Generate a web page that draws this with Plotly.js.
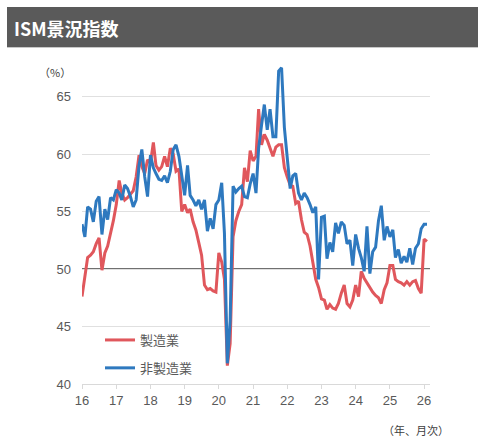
<!DOCTYPE html>
<html>
<head>
<meta charset="utf-8">
<script src="https://cdn.plot.ly/plotly-3.0.1.min.js"></script>
<style>html,body{margin:0;padding:0;background:#fff;}#chart{width:483px;height:438px;}</style>
</head>
<body>
<div id="chart"></div>
<script>
// ---- data ----
const startYear = 2016;
const seriesNames = ['製造業', '非製造業'];
const manufacturing = [
  47.6, 49.5, 51.0, 51.2, 51.5, 52.2, 52.7, 49.9, 51.4, 52.0, 53.0, 54.2,
  55.6, 57.7, 56.6, 56.0, 56.2, 56.5, 56.8, 58.0, 59.9, 58.9, 58.3, 59.5,
  59.2, 61.0, 59.0, 58.6, 58.9, 59.8, 58.9, 60.5, 60.0, 58.5, 58.7, 55.0,
  55.6, 54.9, 55.2, 54.1, 53.4, 52.3, 51.2, 48.6, 48.2, 48.3, 48.1, 48.0,
  51.4, 50.6, 49.1, 41.6, 43.5, 52.8, 54.2, 55.0, 55.6, 58.8, 57.6, 60.3,
  59.4, 59.8, 63.9, 60.8, 61.7, 61.2, 60.5, 59.8, 60.6, 60.8, 60.8, 58.8,
  58.0, 57.3, 57.2, 55.7, 55.9, 54.3, 53.2, 53.0, 52.0, 50.6, 49.1, 48.4,
  47.4, 47.3, 46.5, 46.9, 46.6, 46.5, 47.0, 47.9, 48.6, 47.0, 46.7, 47.3,
  48.6, 47.6, 49.8, 49.2, 48.8, 48.4, 48.0, 47.7, 47.5, 47.0, 48.2, 48.8,
  50.3, 50.3, 49.1, 48.9, 48.8, 48.6, 48.9, 48.6, 48.9, 49.0, 48.3, 47.9,
  52.6, 52.4
];
const services = [
  53.9, 52.8, 55.4, 55.2, 54.1, 55.9, 56.3, 53.0, 55.2, 54.3, 56.2, 56.0,
  56.9, 56.6, 56.0, 57.3, 57.0, 56.3, 55.4, 56.0, 59.0, 60.4, 58.0, 56.3,
  59.9, 58.8, 58.3, 57.8, 57.7, 58.1, 57.5, 58.5, 60.4, 60.8, 59.8, 58.0,
  56.4, 59.0, 56.4, 56.0, 55.5, 56.0, 55.2, 56.0, 53.3, 54.4, 53.5, 55.6,
  56.0, 57.5, 53.1, 41.8, 45.5, 57.2, 56.7, 57.0, 57.2, 56.3, 56.2, 57.4,
  58.3, 56.6, 60.5, 62.5, 64.3, 62.1, 63.9, 61.5, 61.5, 67.2, 67.5, 62.3,
  59.9, 57.0, 58.1, 58.3, 56.6, 56.0, 56.6, 56.2, 55.6, 54.9, 55.4, 49.1,
  54.5, 54.6, 50.9, 52.3, 51.5, 54.0, 53.1, 54.1, 53.8, 52.2, 52.5, 50.3,
  53.0, 51.8, 51.0, 49.8, 53.7, 49.6, 51.5, 51.9, 54.2, 55.5, 52.5, 53.7,
  52.8, 53.4, 51.0, 51.7, 50.5, 51.1, 50.6, 51.8, 50.4, 51.8, 52.2, 53.5,
  53.9, 53.9
];
const yearTickDates = ['2016-01-01','2017-01-01','2018-01-01','2019-01-01','2020-01-01','2021-01-01','2022-01-01','2023-01-01','2024-01-01','2025-01-01','2026-01-01'];
const yearTickLabels = ['16','17','18','19','20','21','22','23','24','25','26'];
const yTickVals = [40, 45, 50, 55, 60, 65];
const titleText = 'ISM景況指数';
const unitText = '（%）';
const xUnitText = '（年、月次）';

// month dates derived from the start year
const months = manufacturing.map((_, i) => {
  const y = startYear + Math.floor(i / 12);
  const m = (i % 12) + 1;
  return y + '-' + (m < 10 ? '0' + m : m) + '-01';
});

// ---- layout helpers (pixel -> paper) ----
const W = 483, H = 438;
const M = {l: 82, r: 53, t: 62, b: 54};
const PW = W - M.l - M.r, PH = H - M.t - M.b;
const px = x => (x - M.l) / PW;
const py = y => (H - M.b - y) / PH;

const jp = '"Noto Sans CJK JP", "Noto Sans", sans-serif';
const num = '"Liberation Sans", Arial, sans-serif';

const traces = [
  {x: months, y: manufacturing, name: seriesNames[0], type: 'scatter', mode: 'lines',
   line: {color: '#E0575C', width: 3}, legendgroup: 'a'},
  {x: months, y: services, name: seriesNames[1], type: 'scatter', mode: 'lines',
   line: {color: '#2E79BF', width: 3}, legendgroup: 'b'}
];

const layout = {
  width: W, height: H,
  margin: M,
  paper_bgcolor: '#ffffff', plot_bgcolor: '#ffffff',
  showlegend: true,
  legend: {
    x: px(100), y: py(325), xanchor: 'left', yanchor: 'top',
    bgcolor: 'rgba(0,0,0,0)', borderwidth: 0,
    font: {family: jp, size: 13, color: '#595959'},
    tracegroupgap: 8, itemwidth: 30
  },
  xaxis: {
    type: 'date',
    range: ['2016-01-01', '2026-03-05'],
    tickmode: 'array', tickvals: yearTickDates, ticktext: yearTickLabels,
    ticks: 'outside', ticklen: 4, tickcolor: '#d9d9d9', tickwidth: 1,
    showgrid: false, zeroline: false,
    showline: true, linecolor: '#d9d9d9', linewidth: 1,
    tickfont: {family: num, size: 13, color: '#595959'}
  },
  yaxis: {
    range: [40, 68],
    tickmode: 'array', tickvals: yTickVals,
    showgrid: true, gridcolor: '#e0e0e0', gridwidth: 1,
    zeroline: false, showline: false, ticks: '',
    ticklabelstandoff: 10,
    tickfont: {family: num, size: 13, color: '#595959'}
  },
  shapes: [
    {type: 'rect', xref: 'paper', yref: 'paper', x0: px(7), x1: px(478), y0: py(47), y1: py(7),
     fillcolor: '#5a5a5a', line: {width: 0}},
    {type: 'line', xref: 'paper', yref: 'paper', x0: px(7), x1: px(478), y0: py(47.5), y1: py(47.5),
     line: {color: '#c8c8c8', width: 1}},
    {type: 'line', xref: 'paper', yref: 'y', x0: 0, x1: 1, y0: 50, y1: 50,
     line: {color: '#404040', width: 1.3}, layer: 'between'}
  ],
  annotations: [
    {text: '<b>' + titleText + '</b>', xref: 'paper', yref: 'paper', x: px(12), y: py(28),
     xanchor: 'left', yanchor: 'middle', showarrow: false,
     font: {family: jp, size: 18, color: '#ffffff'}},
    {text: unitText, xref: 'paper', yref: 'paper', x: px(55), y: py(72),
     xanchor: 'center', yanchor: 'middle', showarrow: false,
     font: {family: jp, size: 11, color: '#404040'}},
    {text: xUnitText, xref: 'paper', yref: 'paper', x: px(416), y: py(430),
     xanchor: 'center', yanchor: 'middle', showarrow: false,
     font: {family: jp, size: 11, color: '#404040'}}
  ]
};

Plotly.newPlot('chart', traces, layout, {displayModeBar: false, staticPlot: true});
</script>
</body>
</html>
